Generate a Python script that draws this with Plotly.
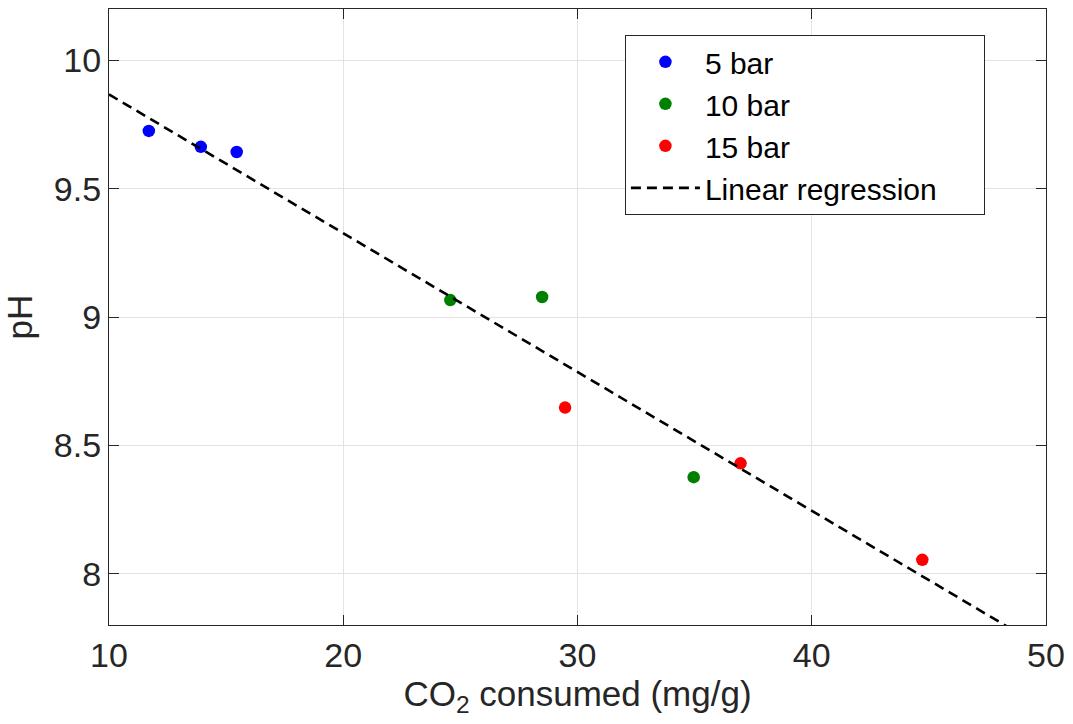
import numpy as np
import plotly.graph_objects as go

x5 = [11.70, 13.92, 15.45]
y5 = [9.725, 9.663, 9.643]
x10 = [24.57, 28.49, 34.96]
y10 = [9.066, 9.078, 8.376]
x15 = [29.47, 36.96, 44.72]
y15 = [8.647, 8.430, 8.054]

xall = np.array(x5 + x10 + x15)
yall = np.array(y5 + y10 + y15)
slope, intercept = np.polyfit(xall, yall, 1)
xfit = np.array([10, 50])
yfit = intercept + slope * xfit

font = "Liberation Sans, Arial, Helvetica, sans-serif"
axcol = "#262626"

fig = go.Figure()
mk = dict(size=12.5, line=dict(width=0))
fig.add_trace(go.Scatter(x=x5, y=y5, mode="markers", name="5 bar", marker=dict(color="#0000ff", **mk)))
fig.add_trace(go.Scatter(x=x10, y=y10, mode="markers", name="10 bar", marker=dict(color="#008000", **mk)))
fig.add_trace(go.Scatter(x=x15, y=y15, mode="markers", name="15 bar", marker=dict(color="#ff0000", **mk)))
fig.add_trace(go.Scatter(x=xfit, y=yfit, mode="lines", name="Linear regression&nbsp;&nbsp;&nbsp;&nbsp;&nbsp;",
                         line=dict(color="black", width=2.6, dash="10px,6px")))

axis_common = dict(showline=True, linecolor=axcol, linewidth=1.2, mirror="ticks",
                   ticks="inside", ticklen=10, tickcolor=axcol, tickwidth=1,
                   showgrid=True, gridcolor="#e3e3e3", gridwidth=1, zeroline=False,
                   tickfont=dict(family=font, size=34, color=axcol))

fig.update_layout(
    width=1073, height=724,
    margin=dict(l=109, r=25, t=8, b=99),
    plot_bgcolor="white", paper_bgcolor="white",
    font=dict(family=font, size=30, color=axcol),
    xaxis=dict(range=[10, 50], tickvals=[10, 20, 30, 40, 50],
               title=dict(text="CO<sub>2</sub> consumed (mg/g)", font=dict(family=font, size=35, color=axcol), standoff=4),
               **axis_common),
    yaxis=dict(range=[7.8, 10.2], tickvals=[8, 8.5, 9, 9.5, 10], ticktext=["8", "8.5", "9", "9.5", "10"],
               title=dict(text="pH", font=dict(family=font, size=35, color=axcol), standoff=12),
               **axis_common),
    legend=dict(x=0.5506, y=0.958, xanchor="left", yanchor="top",
                bgcolor="white", bordercolor=axcol, borderwidth=1,
                font=dict(family=font, size=30, color="black"),
                itemwidth=69, tracegroupgap=0),
    showlegend=True,
)

fig.write_html("out.html")
